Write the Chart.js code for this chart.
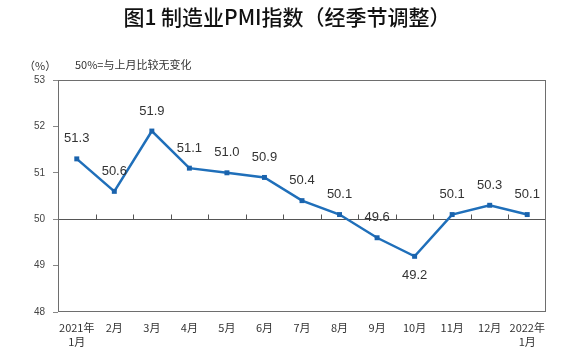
<!DOCTYPE html>
<html><head><meta charset="utf-8">
<script src="https://cdn.jsdelivr.net/npm/chart.js@4"></script>
<style>html,body{margin:0;padding:0;background:#fff}canvas{display:block}</style>
</head><body>
<canvas id="c" width="581" height="359"></canvas>
<script>
const categories = [['2021年','1月'],'2月','3月','4月','5月','6月','7月','8月','9月','10月','11月','12月',['2022年','1月']];
const pmiValues = [51.3,50.6,51.9,51.1,51.0,50.9,50.4,50.1,49.6,49.2,50.1,50.3,50.1];
const yTicks = [48,49,50,51,52,53];
const titleText = '图1 制造业PMI指数（经季节调整）';
const unitText = '（%）';
const noteText = '50%=与上月比较无变化';
const labelBelow = [false,false,false,false,false,false,false,false,false,true,false,false,false];

const decor = {
  id:'decor',
  beforeDraw(chart){
    const {ctx} = chart;
    ctx.save();
    ctx.fillStyle='#fff';ctx.fillRect(0,0,chart.width,chart.height);
    ctx.restore();
  },
  afterDatasetsDraw(chart){
    const {ctx, chartArea:a, scales:{x,y}} = chart;
    ctx.save();
    ctx.strokeStyle='#6e6e6e';ctx.lineWidth=1;
    ctx.strokeRect(a.left+0.5,a.top+0.5,a.right-a.left-1,a.bottom-a.top-1);
    const y50 = Math.round(y.getPixelForValue(50))+0.5;
    const step = x.getPixelForValue(1)-x.getPixelForValue(0);
    ctx.strokeStyle='#555';
    for(let i=1;i<categories.length;i++){
      const px = Math.round(x.getPixelForValue(i)-step/2)+0.5;
      ctx.beginPath();ctx.moveTo(px,y50);ctx.lineTo(px,y50-5);ctx.stroke();
    }
    const meta = chart.getDatasetMeta(0);
    ctx.fillStyle='#333';
    ctx.font='13px "Liberation Sans", Arial, sans-serif';
    ctx.textAlign='center';ctx.textBaseline='middle';
    meta.data.forEach((pt,i)=>{
      const v = pmiValues[i].toFixed(1);
      const dy = labelBelow[i] ? 19 : -20;
      ctx.fillText(v, pt.x, pt.y+dy);
    });
    ctx.fillStyle='#111';
    ctx.font='500 21px "Noto Sans CJK SC", sans-serif';
    ctx.textAlign='center';ctx.textBaseline='middle';
    ctx.fillText(titleText, 287, 17);
    ctx.fillStyle='#333';
    ctx.font='11px "Noto Sans CJK SC", sans-serif';
    ctx.textAlign='left';
    ctx.fillText(unitText, 24, 66);
    ctx.fillText(noteText, 75, 65);
    ctx.restore();
  }
};

new Chart(document.getElementById('c'), {
  type:'line',
  data:{labels:categories, datasets:[{
    data:pmiValues,
    borderColor:'#1f6fba',
    backgroundColor:'#1a63ad',
    borderWidth:2.5,
    pointStyle:'rect',
    pointRadius:3.5,
    pointBorderWidth:0,
    tension:0
  }]},
  options:{
    responsive:false, animation:false,
    layout:{padding:{left:0,right:35,top:80,bottom:0}},
    plugins:{legend:{display:false},tooltip:{enabled:false},title:{display:false}},
    scales:{
      x:{
        offset:true,
        grid:{display:false,drawTicks:false},
        border:{display:false},
        ticks:{color:'#333',font:{family:'"Noto Sans CJK SC", sans-serif',size:11,lineHeight:1.35},padding:8,maxRotation:0,autoSkip:false},
        afterFit(s){s.height=47;}
      },
      y:{
        min:48,max:53,
        afterBuildTicks(s){s.ticks=yTicks.map(v=>({value:v}));},
        grid:{
          color:(c)=>c.tick && c.tick.value===50 ? '#555' : 'rgba(0,0,0,0)',
          tickColor:'#888', tickLength:5, drawOnChartArea:true
        },
        border:{display:false},
        ticks:{color:'#444',font:{family:'"Liberation Sans", Arial, sans-serif',size:10},padding:8},
        afterFit(s){s.width=58;}
      }
    }
  },
  plugins:[decor]
});
</script>
</body></html>
